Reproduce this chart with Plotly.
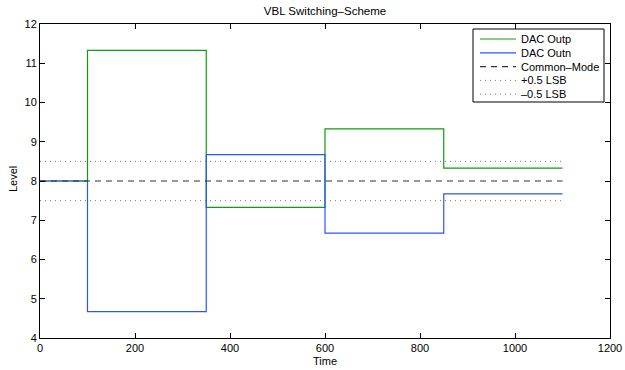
import plotly.graph_objects as go

# Switching instants (segment edges) and the level held during each segment
edges = [0, 100, 350, 600, 850, 1100]
outp_levels = [8.0, 11.33, 7.33, 9.33, 8.33]
outn_levels = [8.0, 4.67, 8.67, 6.67, 7.67]
common_mode = 8.0
lsb_half = 0.5

x_ticks = [0, 200, 400, 600, 800, 1000, 1200]
y_ticks = [4, 5, 6, 7, 8, 9, 10, 11, 12]


def step_xy(edges, levels):
    xs, ys = [], []
    for i, lv in enumerate(levels):
        xs += [edges[i], edges[i + 1]]
        ys += [lv, lv]
    return xs, ys


FONT = "Liberation Sans, Arial, Helvetica, sans-serif"
W, H = 625, 370
ML, MR, MT, MB = 40, 15, 24, 32
PW, PH = W - ML - MR, H - MT - MB


def px_to_paper(px, py):
    return (px - ML) / PW, (H - MB - py) / PH


GREEN = "#109a10"
BLUE = "#2a55ff"
CM_STYLE = dict(color="#333333", width=1.2, dash="6px,5px")
LSB_STYLE = dict(color="#777777", width=1, dash="1px,4px")

series = [
    ("DAC Outp", dict(color=GREEN, width=1.2)),
    ("DAC Outn", dict(color=BLUE, width=1.2)),
    ("Common\u2013Mode", CM_STYLE),
    ("+0.5 LSB", LSB_STYLE),
    ("\u20130.5 LSB", LSB_STYLE),
]

fig = go.Figure()

xp, yp = step_xy(edges, outp_levels)
xn, yn = step_xy(edges, outn_levels)
span = [edges[0], edges[-1]]

fig.add_trace(go.Scatter(x=xp, y=yp, mode="lines", line=series[0][1]))
fig.add_trace(go.Scatter(x=xn, y=yn, mode="lines", line=series[1][1]))
fig.add_trace(go.Scatter(x=span, y=[common_mode] * 2, mode="lines",
                         line=CM_STYLE))
fig.add_trace(go.Scatter(x=span, y=[common_mode + lsb_half] * 2,
                         mode="lines", line=LSB_STYLE))
fig.add_trace(go.Scatter(x=span, y=[common_mode - lsb_half] * 2,
                         mode="lines", line=LSB_STYLE))

# Boxed legend in the upper-right corner
shapes = []
annotations = []
x0, y0 = px_to_paper(473, 29)
x1, y1 = px_to_paper(604, 102)
shapes.append(dict(type="rect", xref="paper", yref="paper",
                   x0=x0, y0=y1, x1=x1, y1=y0,
                   line=dict(color="black", width=1), fillcolor="white",
                   layer="above"))
for i, (name, style) in enumerate(series):
    row_y = 39 + i * 13.8
    lx0, ly = px_to_paper(480, row_y)
    lx1, _ = px_to_paper(516, row_y)
    shapes.append(dict(type="line", xref="paper", yref="paper",
                       x0=lx0, x1=lx1, y0=ly, y1=ly,
                       line=style, layer="above"))
    tx, _ = px_to_paper(519, row_y)
    annotations.append(dict(text=name, xref="paper", yref="paper",
                            x=tx, y=ly, xanchor="left", yanchor="middle",
                            showarrow=False,
                            font=dict(family=FONT, size=11, color="black")))

# Axis titles
tx, ty = px_to_paper(325, 361)
annotations.append(dict(text="Time", xref="paper", yref="paper", x=tx, y=ty,
                        xanchor="center", yanchor="middle", showarrow=False,
                        font=dict(family=FONT, size=11, color="black")))
lx, ly = px_to_paper(13, 179)
annotations.append(dict(text="Level", xref="paper", yref="paper", x=lx, y=ly,
                        xanchor="center", yanchor="middle", showarrow=False,
                        textangle=-90,
                        font=dict(family=FONT, size=11, color="black")))

axis_common = dict(
    showline=True, linecolor="black", linewidth=1, mirror="ticks",
    ticks="inside", ticklen=5, tickcolor="black", tickwidth=1,
    showgrid=False, zeroline=False, automargin=False,
    tickfont=dict(family=FONT, size=11, color="black"),
)

fig.update_layout(
    width=W, height=H,
    margin=dict(l=ML, r=MR, t=MT, b=MB),
    paper_bgcolor="white", plot_bgcolor="white",
    font=dict(family=FONT, size=11, color="black"),
    title=dict(text="VBL Switching\u2013Scheme", x=325 / W, xanchor="center",
               y=1 - 11 / H, yanchor="middle",
               font=dict(family=FONT, size=11.5, color="black")),
    xaxis=dict(range=[0, 1200], tickvals=x_ticks, **axis_common),
    yaxis=dict(range=[4, 12], tickvals=y_ticks, **axis_common),
    shapes=shapes,
    annotations=annotations,
    showlegend=False,
)

fig.write_html("out.html")
